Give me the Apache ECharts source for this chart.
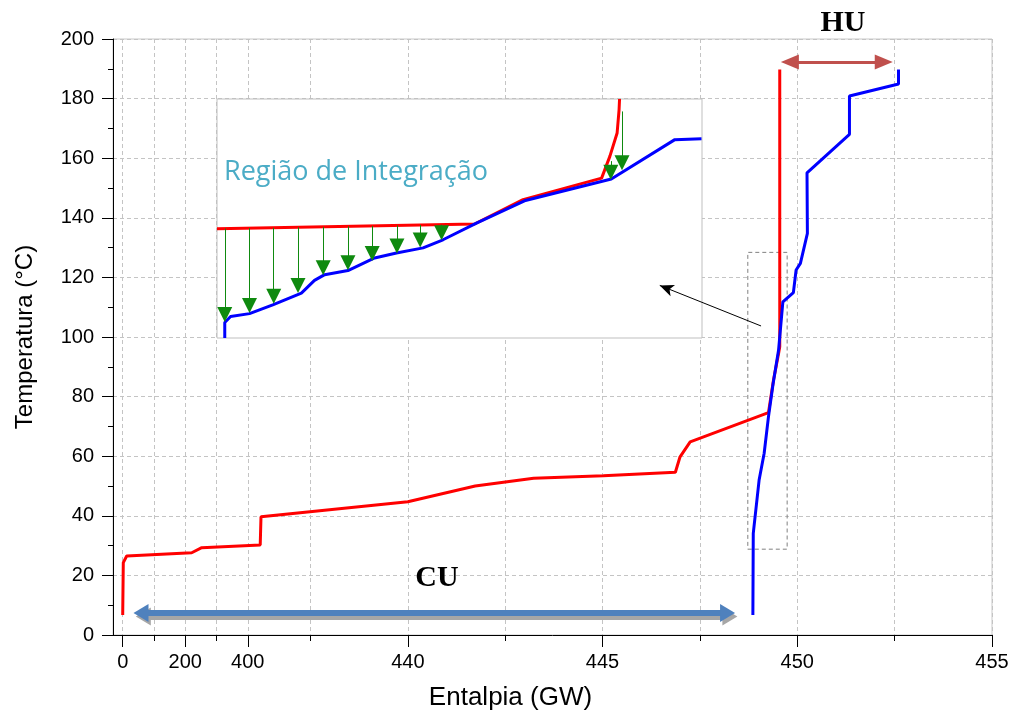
<!DOCTYPE html>
<html>
<head>
<meta charset="utf-8">
<title>Curvas compostas</title>
<script src="https://cdn.jsdelivr.net/npm/echarts@6/dist/echarts.min.js"></script>
<style>
    html, body {margin: 0; padding: 0; background: #fff;}
    #main {width: 1014px; height: 722px;}
</style>
</head>
<body>
<div id="main"></div>
<script>
// eixo x quebrado: 0..400 comprimido, depois escala normal a partir de ~436
var xMajor = [0, 200, 400, 440, 445, 450, 455];
var xMinor = [100, 300, 437.5, 442.5, 447.5, 452.5];
var yTicks = [0, 20, 40, 60, 80, 100, 120, 140, 160, 180, 200];

// curva composta quente (vermelha)
var quenteH = [0, 1.9, 12.8, 220.8, 252.8, 436.21, 436.23, 440.0, 441.73, 443.23, 445.02, 446.87, 446.99, 447.25, 449.26, 449.39, 449.52, 449.55, 449.55];
var quenteT = [6.7, 24.3, 26.5, 27.6, 29.3, 30.2, 39.7, 44.7, 50.0, 52.6, 53.4, 54.6, 59.8, 64.8, 74.6, 85.6, 94.5, 96.7, 189.8];

// curva composta fria (azul)
var frioH = [448.86, 448.87, 449.02, 449.15, 449.26, 449.38, 449.52, 449.63, 449.90, 449.97, 450.08, 450.26, 450.25, 451.34, 451.34, 452.60, 452.60];
var frioT = [6.7, 34.1, 52.0, 61.0, 73.2, 84.4, 95.6, 111.8, 114.9, 122.5, 124.7, 134.8, 155.1, 168.0, 180.9, 184.9, 189.8];

// detalhe (quadro "Regiao de Integracao"), escala relativa 0..100
var detQuenteX = [0, 53.1, 63.1, 79.3, 81.0, 82.5, 82.9, 83.0];
var detQuenteY = [45.7, 47.7, 57.9, 66.9, 76.0, 85.8, 95.5, 100];
var detFrioX = [1.6, 1.6, 2.8, 6.7, 11.5, 17.4, 20.1, 22.2, 27.0, 32.5, 37.0, 42.5, 46.6, 53.5, 63.4, 81.3, 94.4, 99.9];
var detFrioY = [0, 6.5, 9.0, 10.2, 13.9, 18.8, 24.1, 26.5, 28.2, 33.5, 35.6, 37.7, 41.1, 48.1, 57.4, 66.5, 83.0, 83.4];
var setasX = [1.6, 6.7, 11.7, 16.7, 21.9, 27.0, 32.0, 37.1, 41.9, 46.3, 81.2, 83.5];
var setasY0 = [45.8, 46.0, 46.1, 46.3, 46.5, 46.7, 46.9, 47.1, 47.3, 47.4, 74.0, 94.8];
var setasY1 = [9.8, 13.6, 17.5, 22.0, 29.4, 31.5, 35.4, 38.5, 41.0, 44.0, 69.4, 73.3];

// anotacoes (entalpia, temperatura)
var cuH = [58.5, 448.21], cuT = 7.4, cuSombraT = 6.2;
var huH = [449.81, 452.22], huT = 192.3;
var caixaH = [448.73, 449.74], caixaT = [28.8, 128.4];
var setaH = [449.07, 446.47], setaT = [103.7, 117.3];

var BRK = 400, X0 = 432.679, K = 0.0080275, XMIN = 432.43, XMAX = 455;
function eixo(h) {
    return h <= BRK ? X0 + h * K : h;
}
function rotulo(v) {
    return v < 435.95 ? String(Math.round((v - X0) / K)) : String(Math.round(v * 10) / 10);
}
function pares(xs, ys, fx) {
    var out = [];
    for (var i = 0; i < xs.length; i++) {
        out.push([fx ? fx(xs[i]) : xs[i], ys[i]]);
    }
    return out;
}

var setas = [];
for (var i = 0; i < setasX.length; i++) {
    setas.push({coords: [[setasX[i], setasY0[i]], [setasX[i], setasY1[i]]]});
}

var grade = {type: [4, 3], color: '#c4c4c4', width: 1};
var preto = {color: '#000', width: 1};

var chart = echarts.init(document.getElementById('main'));
chart.setOption({
    animation: false,
    backgroundColor: '#fff',
    grid: [
        {left: 113, right: 22, top: 39, bottom: 87, show: true, borderColor: '#c8c8c8', borderWidth: 1},
        {left: 217, top: 99, width: 485, height: 239, show: true, backgroundColor: '#fff', borderColor: '#bfbfbf', borderWidth: 1, z: 1}
    ],
    xAxis: [{
        type: 'value', gridIndex: 0, min: XMIN, max: XMAX,
        name: 'Entalpia (GW)', nameLocation: 'middle', nameGap: 50,
        nameTextStyle: {fontFamily: 'Liberation Sans', fontSize: 26, color: '#000', padding: [0, 84, 0, 0]},
        axisLine: {lineStyle: preto},
        axisTick: {customValues: xMajor.map(eixo), length: 12, lineStyle: preto},
        axisLabel: {customValues: xMajor.map(eixo), formatter: rotulo, margin: 17,
            fontFamily: 'Liberation Sans', fontSize: 20, color: '#000'},
        splitLine: {show: true, lineStyle: grade}
    }, {
        type: 'value', gridIndex: 0, min: XMIN, max: XMAX, position: 'bottom',
        axisLine: {show: false},
        axisTick: {customValues: xMinor.map(eixo), length: 6, lineStyle: preto},
        axisLabel: {show: false},
        splitLine: {show: true, lineStyle: grade}
    }, {
        type: 'value', gridIndex: 1, min: 0, max: 100, show: false
    }],
    yAxis: [{
        type: 'value', gridIndex: 0, min: 0, max: 200, interval: 20,
        name: 'Temperatura (°C)', nameLocation: 'middle', nameGap: 76,
        nameTextStyle: {fontFamily: 'Liberation Sans', fontSize: 24, color: '#000'},
        axisLine: {show: true, lineStyle: preto},
        axisTick: {show: true, length: 11, lineStyle: preto},
        minorTick: {show: true, splitNumber: 2, length: 5, lineStyle: preto},
        axisLabel: {customValues: yTicks, margin: 19, fontFamily: 'Liberation Sans', fontSize: 20, color: '#000'},
        splitLine: {show: true, lineStyle: grade}
    }, {
        type: 'value', gridIndex: 1, min: 0, max: 100, show: false
    }],
    series: [{
        name: 'quente', type: 'line', xAxisIndex: 0, yAxisIndex: 0,
        data: pares(quenteH, quenteT, eixo), showSymbol: false, z: 2,
        lineStyle: {color: '#ff0000', width: 3}
    }, {
        name: 'frio', type: 'line', xAxisIndex: 0, yAxisIndex: 0,
        data: pares(frioH, frioT, eixo), showSymbol: false, z: 2,
        lineStyle: {color: '#0000ff', width: 3}
    }, {
        name: 'detalhe quente', type: 'line', xAxisIndex: 2, yAxisIndex: 1,
        data: pares(detQuenteX, detQuenteY), showSymbol: false, z: 3,
        lineStyle: {color: '#ff0000', width: 3}
    }, {
        name: 'detalhe frio', type: 'line', xAxisIndex: 2, yAxisIndex: 1,
        data: pares(detFrioX, detFrioY), showSymbol: false, z: 3,
        lineStyle: {color: '#0000ff', width: 3}
    }, {
        name: 'setas', type: 'lines', coordinateSystem: 'cartesian2d', xAxisIndex: 2, yAxisIndex: 1,
        data: setas, z: 4, silent: true,
        symbol: ['none', 'triangle'], symbolSize: [9, 15],
        lineStyle: {color: '#0f8a0f', width: 1, opacity: 1}
    }, {
        name: 'anotacoes', type: 'line', xAxisIndex: 0, yAxisIndex: 0, data: [], z: 5,
        markArea: {
            silent: true,
            itemStyle: {color: 'rgba(0,0,0,0)', borderColor: '#808080', borderWidth: 1, borderType: [4, 3]},
            data: [[{coord: [eixo(caixaH[0]), caixaT[0]]}, {coord: [eixo(caixaH[1]), caixaT[1]]}]]
        },
        markLine: {
            silent: true, animation: false,
            label: {show: false},
            data: [
                [{coord: [eixo(cuH[0]) + 0.06, cuSombraT], symbol: 'triangle', symbolSize: [18, 15], lineStyle: {color: '#a6a6a6', width: 6, type: 'solid'}},
                 {coord: [eixo(cuH[1]) + 0.06, cuSombraT], symbol: 'triangle', symbolSize: [18, 15]}],
                [{coord: [eixo(cuH[0]), cuT], symbol: 'triangle', symbolSize: [18, 15], lineStyle: {color: '#4f81bd', width: 6, type: 'solid'}},
                 {coord: [eixo(cuH[1]), cuT], symbol: 'triangle', symbolSize: [18, 15]}],
                [{coord: [eixo(huH[0]), huT], symbol: 'triangle', symbolSize: [15, 18], lineStyle: {color: '#c0504d', width: 3, type: 'solid'}},
                 {coord: [eixo(huH[1]), huT], symbol: 'triangle', symbolSize: [15, 18]}],
                [{coord: [eixo(setaH[0]), setaT[0]], symbol: 'none', lineStyle: {color: '#000', width: 1, type: 'solid'}},
                 {coord: [eixo(setaH[1]), setaT[1]], symbol: 'arrow', symbolSize: [9, 14]}]
            ]
        }
    }],
    graphic: [
        {type: 'text', x: 224, y: 172, z: 100, style: {text: 'Região de Integração', fill: '#4bacc6',
            font: '27px "Open Sans"', textVerticalAlign: 'middle'}},
        {type: 'text', x: 437, y: 578, z: 100, style: {text: 'CU', fill: '#000',
            font: 'bold 30px "Liberation Serif"', textAlign: 'center', textVerticalAlign: 'middle'}},
        {type: 'text', x: 843, y: 23, z: 100, style: {text: 'HU', fill: '#000',
            font: 'bold 30px "Liberation Serif"', textAlign: 'center', textVerticalAlign: 'middle'}}
    ]
});
</script>
</body>
</html>
